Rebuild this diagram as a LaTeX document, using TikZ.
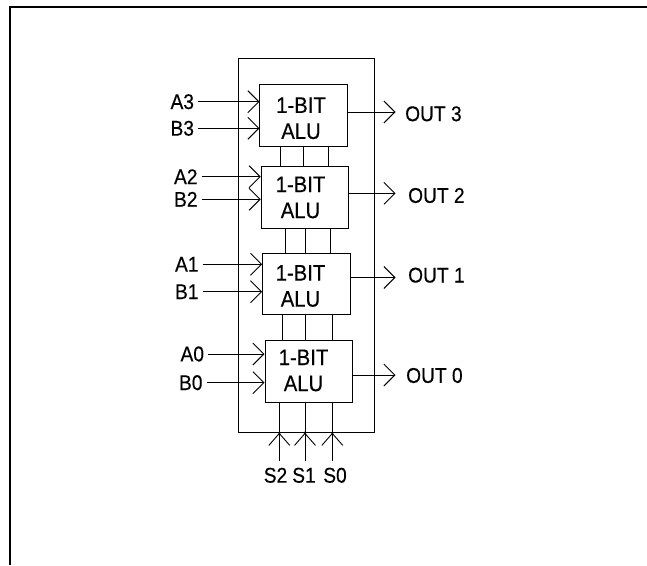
\documentclass[tikz,border=0pt]{standalone}
\usepackage{fontspec}
\setmainfont{Liberation Sans}
\newfontfamily\diafont[FakeStretch=0.9,FakeBold=0.4]{Liberation Sans}
\usetikzlibrary{arrows.meta}
\begin{document}
\begin{tikzpicture}[x=1pt,y=-1pt,
  wire/.style={line width=0.9pt},
  arr/.style={wire,-{Straight Barb[length=11pt,width=22pt]}},
  alubox/.style={draw,line width=0.9pt,minimum width=87.7pt,minimum height=61.5pt,inner sep=0pt},
  alutext/.style={font=\diafont\fontsize{22.5}{26}\selectfont,align=center,inner sep=0pt},
  inlbl/.style={font=\diafont\fontsize{21.3}{24}\selectfont,inner sep=0pt,outer sep=4pt,anchor=east},
  outlbl/.style={font=\diafont\fontsize{21.3}{24}\selectfont,inner sep=0pt,anchor=west},
  slbl/.style={font=\diafont\fontsize{21.3}{24}\selectfont,inner sep=0pt},
  housing/.style={draw,line width=0.9pt,minimum width=136pt,minimum height=374pt,inner sep=0pt},
  pageframe/.style={line width=2pt}
]
\useasboundingbox (0,0) rectangle (647,565);
% page frame
\draw[pageframe] (647,7) -- (10,7) -- (10,565);

% housing
\node[housing] (outer) at (306.3,245.3) {};

% ALU boxes
\node[alubox] (alu3) at (303.75,115.5) {};
\node[alubox] (alu2) at (305,197.3) {};
\node[alubox] (alu1) at (306.4,283.7) {};
\node[alubox] (alu0) at (308.8,371.3) {};
\node[alutext] (t3) at (301,118.3) {1-BIT\\ALU};
\node[alutext] (t2) at (300.5,197.5) {1-BIT\\ALU};
\node[alutext] (t1) at (300.5,286) {1-BIT\\ALU};
\node[alutext] (t0) at (303.5,370.5) {1-BIT\\ALU};

% inputs
\node[inlbl] (A3) at (198,101.7) {A3};
\node[inlbl] (B3) at (198,128.3) {B3};
\node[inlbl] (A2) at (201.5,176.7) {A2};
\node[inlbl] (B2) at (201.5,199.3) {B2};
\node[inlbl] (A1) at (202.5,264.3) {A1};
\node[inlbl] (B1) at (202.5,291.7) {B1};
\node[inlbl] (A0) at (208,354) {A0};
\node[inlbl] (B0) at (206.5,382.7) {B0};
\draw[arr] (A3.east) -- (A3.east -| alu3.west);
\draw[arr] (B3.east) -- (B3.east -| alu3.west);
\draw[arr] (A2.east) -- (A2.east -| alu2.west);
\draw[arr] (B2.east) -- (B2.east -| alu2.west);
\draw[arr] (A1.east) -- (A1.east -| alu1.west);
\draw[arr] (B1.east) -- (B1.east -| alu1.west);
\draw[arr] (A0.east) -- (A0.east -| alu0.west);
\draw[arr] (B0.east) -- (B0.east -| alu0.west);

% outputs
\coordinate (o3) at (395.5,112);
\coordinate (o2) at (395.5,193.3);
\coordinate (o1) at (395.5,277.5);
\coordinate (o0) at (395.5,375);
\draw[arr] (o3 -| alu3.east) -- (o3);
\draw[arr] (o2 -| alu2.east) -- (o2);
\draw[arr] (o1 -| alu1.east) -- (o1);
\draw[arr] (o0 -| alu0.east) -- (o0);
\node[outlbl] (O3) at (405,113.8) {OUT 3};
\node[outlbl] (O2) at (408,195.5) {OUT 2};
\node[outlbl] (O1) at (408,275.2) {OUT 1};
\node[outlbl] (O0) at (406,375.5) {OUT 0};

% inter-stage connections
\coordinate (k31) at (280.7,0);
\coordinate (k32) at (303.5,0);
\coordinate (k33) at (328.8,0);
\coordinate (k21) at (285,0);
\coordinate (k22) at (305,0);
\coordinate (k23) at (330,0);
\coordinate (k11) at (282.7,0);
\coordinate (k12) at (305,0);
\coordinate (k13) at (332.5,0);
\foreach \k in {k31,k32,k33}{\draw[wire] (\k |- alu3.south) -- (\k |- alu2.north);}
\foreach \k in {k21,k22,k23}{\draw[wire] (\k |- alu2.south) -- (\k |- alu1.north);}
\foreach \k in {k11,k12,k13}{\draw[wire] (\k |- alu1.south) -- (\k |- alu0.north);}

% select lines
\coordinate (s2) at (279.3,461);
\coordinate (s1) at (305,461);
\coordinate (s0) at (332.3,461);
\foreach \s in {s2,s1,s0}{
  \draw[wire,-{Straight Barb[length=12pt,width=21pt]}] (\s) -- (\s |- outer.south);
  \draw[wire] (\s |- outer.south) -- (\s |- alu0.south);
  \fill (\s |- outer.south) circle (1.5);
}
\node[slbl] (S2) at (275.5,475.3) {S2};
\node[slbl] (S1) at (304,475.3) {S1};
\node[slbl] (S0) at (335,475.3) {S0};
\end{tikzpicture}
\end{document}
